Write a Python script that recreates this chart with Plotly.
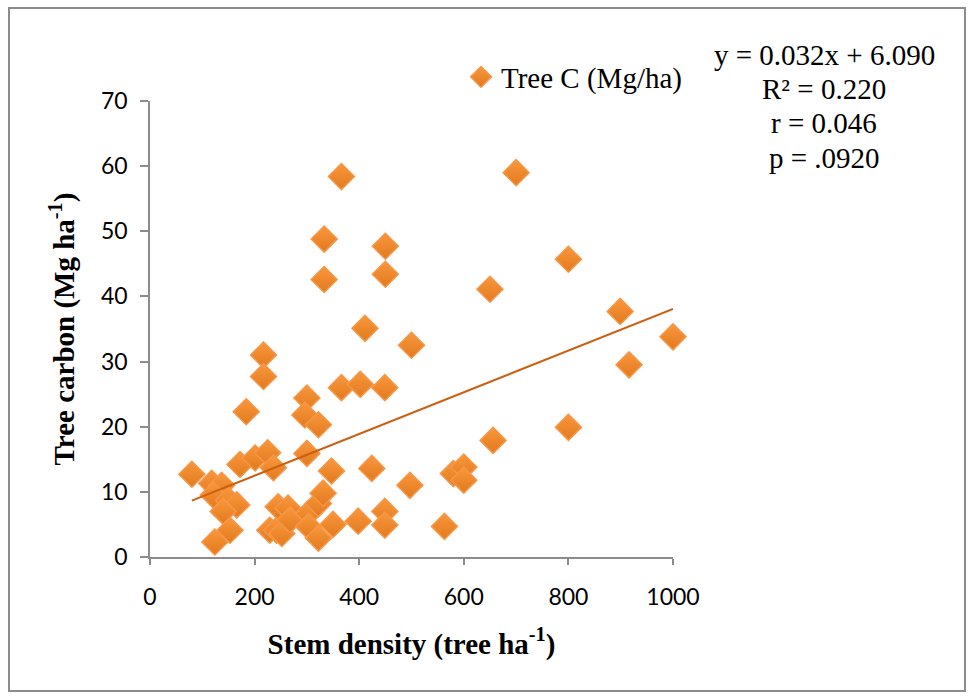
import plotly.graph_objects as go

# ---- data ----
stem_density = [80, 118, 137, 121, 150, 166, 140, 153, 124, 172,
                184, 201, 217, 217, 225, 236, 229, 242, 252, 245,
                264, 268, 300, 296, 322, 300, 303, 322, 331, 303,
                322, 350, 347, 366, 402, 449, 398, 449, 449, 424,
                497, 333, 366, 450, 333, 450, 411, 500, 563, 580,
                600, 600, 656, 650, 700, 800, 800, 899, 916, 1000]
tree_carbon = [12.7, 11.3, 11.0, 9.5, 8.7, 8.0, 7.0, 4.1, 2.3, 14.2,
               22.3, 15.2, 31.0, 27.7, 16.0, 13.7, 4.1, 4.1, 3.6, 7.7,
               7.5, 5.7, 24.4, 21.8, 20.3, 15.9, 6.7, 8.2, 9.8, 4.7,
               2.9, 5.0, 13.2, 26.0, 26.5, 26.0, 5.5, 7.0, 4.9, 13.6,
               11.0, 48.8, 58.4, 47.7, 42.6, 43.4, 35.1, 32.5, 4.7, 12.8,
               13.8, 11.8, 17.9, 41.1, 59.0, 45.7, 19.9, 37.7, 29.5, 33.8]
slope = 0.032
intercept = 6.090
series_name = "Tree C (Mg/ha)"
stats_lines = ["y = 0.032x + 6.090", "R² = 0.220", "r = 0.046", "p = .0920"]
x_ticks = [0, 200, 400, 600, 800, 1000]
y_ticks = [0, 10, 20, 30, 40, 50, 60, 70]

# trendline from the fitted equation shown on the chart
trend_x = [min(stem_density), max(stem_density)]
trend_y = [slope * v + intercept for v in trend_x]

AXIS_COLOR = "#8c8c8c"
TICK_FONT = dict(family="Lato", size=23, color="black")
SERIF = "Liberation Serif"

fig = go.Figure()
fig.add_trace(go.Scatter(
    x=stem_density, y=tree_carbon, mode="markers", name=series_name,
    cliponaxis=False,
    marker=dict(symbol="diamond", size=20, color="#F9973C",
                gradient=dict(type="vertical", color="#E27A1E"),
                line=dict(color="#F79646", width=1.5)),
))
fig.add_trace(go.Scatter(
    x=trend_x, y=trend_y, mode="lines", showlegend=False,
    line=dict(color="#CC5F10", width=2),
))

fig.update_xaxes(
    range=[0, 1000], tickvals=x_ticks, showgrid=False, zeroline=False,
    showline=True, linecolor=AXIS_COLOR, linewidth=1.5,
    ticks="outside", ticklen=6, tickwidth=1.5, tickcolor=AXIS_COLOR,
    tickfont=TICK_FONT, ticklabelstandoff=13,
    title=dict(text="<b>Stem density (tree ha<sup>-1</sup>)</b>",
               font=dict(family=SERIF, size=29, color="black"), standoff=24),
)
fig.update_yaxes(
    range=[0, 70], tickvals=y_ticks, showgrid=False, zeroline=False,
    showline=True, linecolor=AXIS_COLOR, linewidth=1.5,
    ticks="outside", ticklen=8, tickwidth=1.5, tickcolor=AXIS_COLOR,
    tickfont=TICK_FONT, ticklabelstandoff=8,
    title=dict(text="<b>Tree carbon (Mg ha<sup>-1</sup>)</b>",
               font=dict(family=SERIF, size=29, color="black"), standoff=18),
)

# regression statistics, one annotation per line
line_centers_px = [55, 89, 123, 158]
for txt, py in zip(stats_lines, line_centers_px):
    fig.add_annotation(
        xref="paper", yref="paper", x=(824 - 150) / 523, y=(557 - py) / 456,
        xanchor="center", yanchor="middle", showarrow=False,
        text=txt, font=dict(family=SERIF, size=29, color="black"),
    )

fig.add_shape(
    type="rect", xref="paper", yref="paper",
    x0=(9 - 150) / 523, x1=(965 - 150) / 523,
    y0=(557 - 691) / 456, y1=(557 - 8) / 456,
    line=dict(color=AXIS_COLOR, width=2), fillcolor="rgba(0,0,0,0)", layer="below",
)

fig.update_layout(
    width=971, height=696,
    margin=dict(l=150, r=298, t=101, b=139),
    plot_bgcolor="white", paper_bgcolor="white",
    legend=dict(x=(461 - 150) / 523, y=(557 - 77) / 456, xanchor="left",
                yanchor="middle", bgcolor="rgba(0,0,0,0)",
                font=dict(family=SERIF, size=29, color="black"),
                itemwidth=30),
)

fig.write_html("out.html")
